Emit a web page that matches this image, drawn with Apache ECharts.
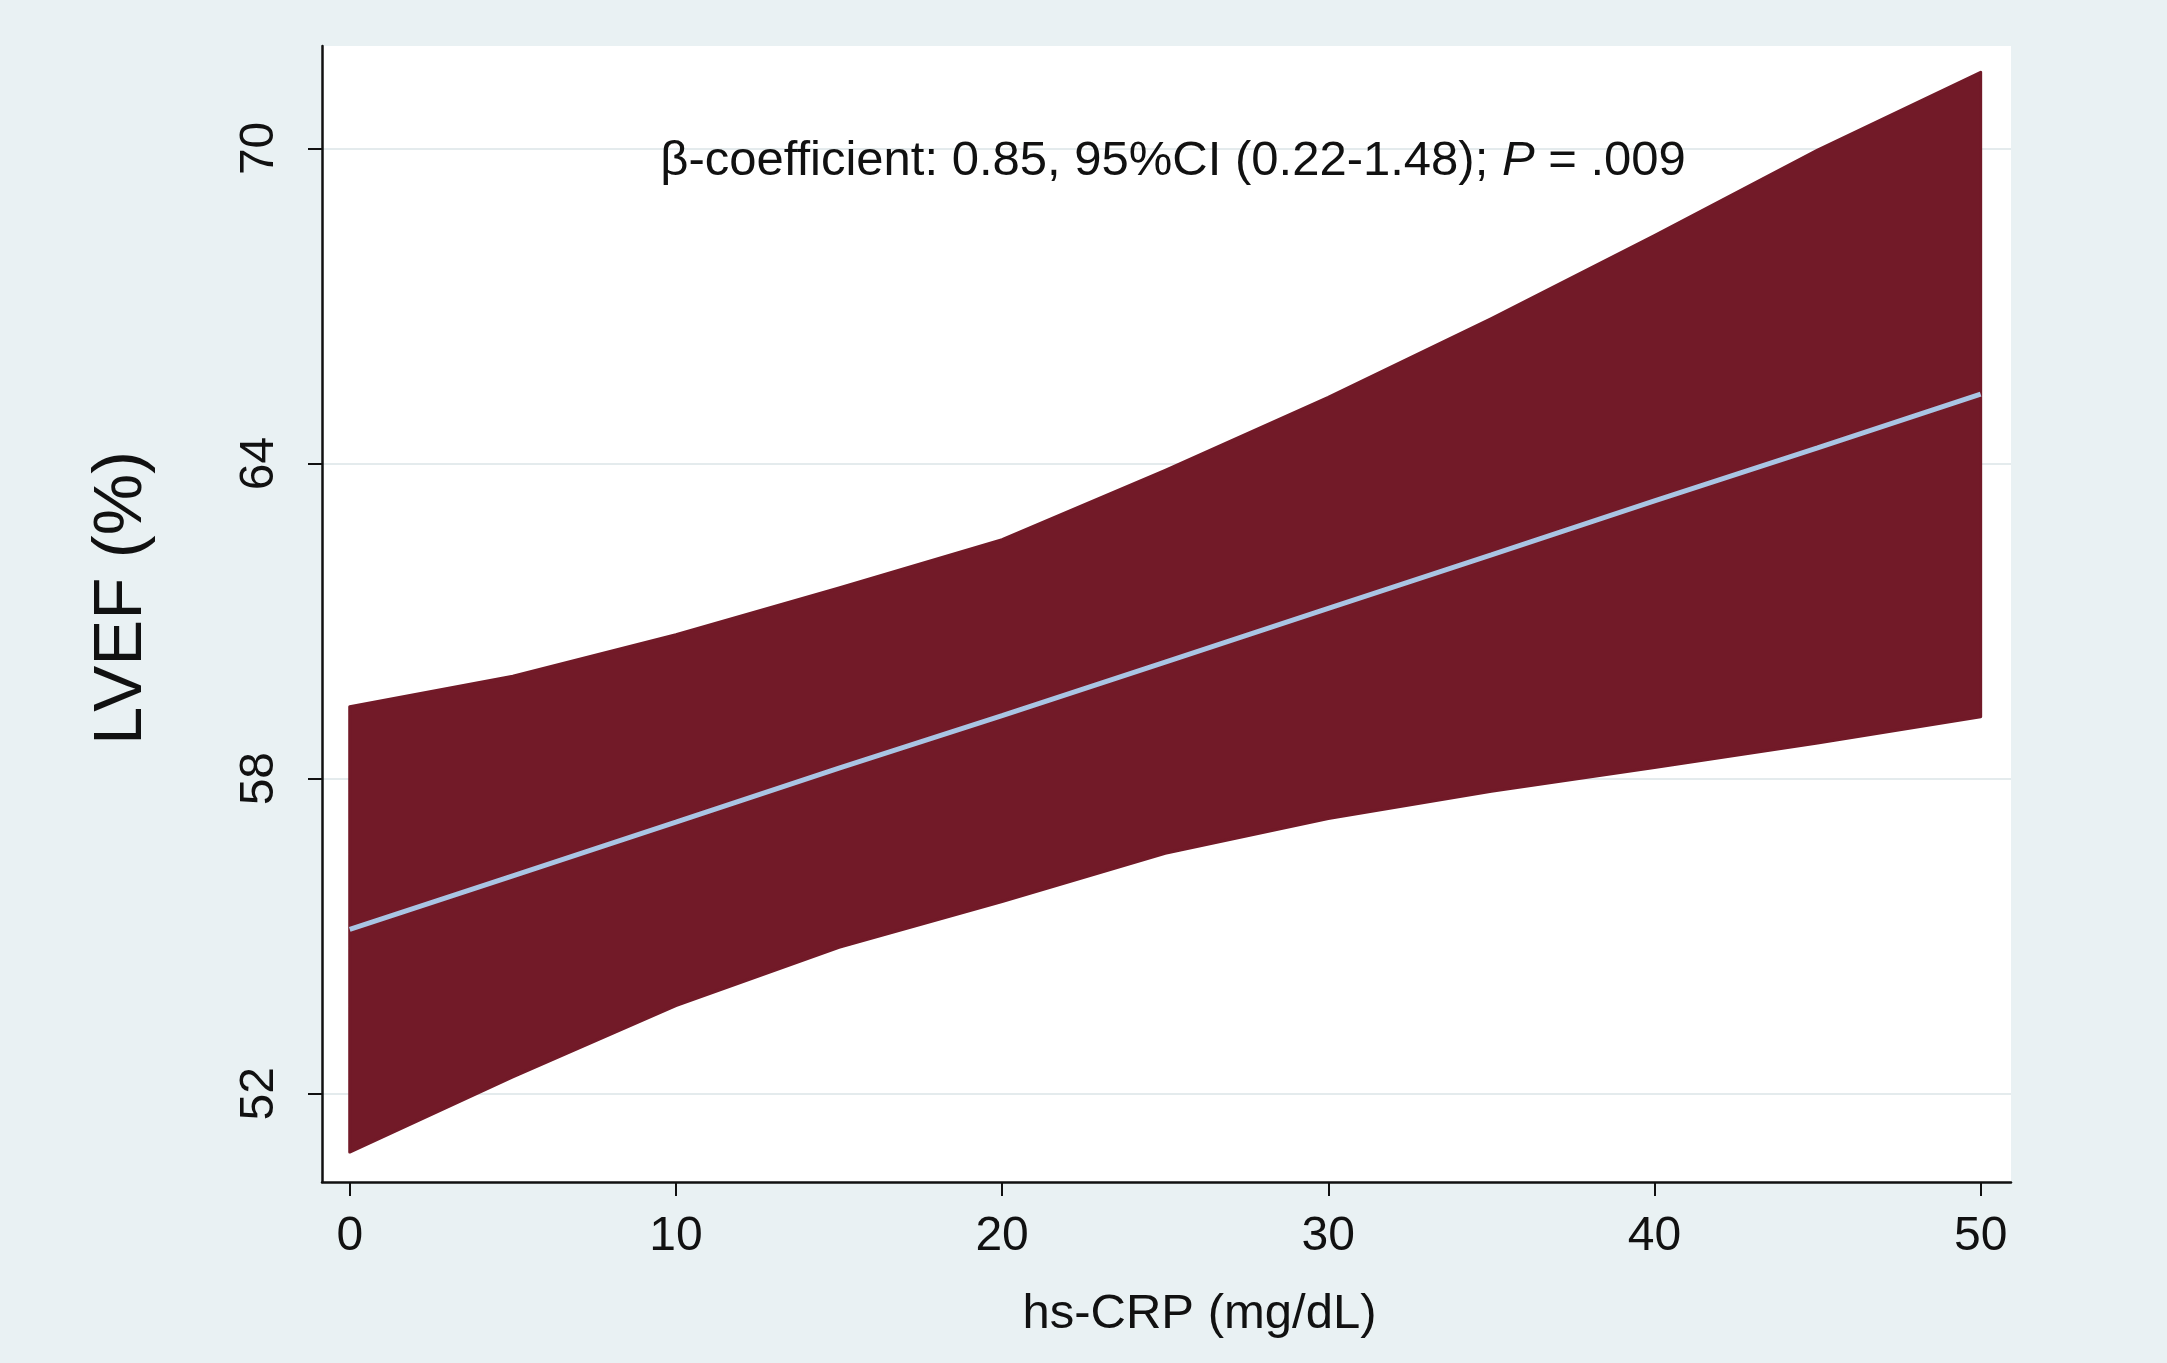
<!DOCTYPE html>
<html>
<head>
<meta charset="utf-8">
<script src="https://cdn.jsdelivr.net/npm/echarts@6/dist/echarts.min.js"></script>
<style>
  html, body { margin: 0; padding: 0; background: #e9f1f3; }
  #chart { width: 2167px; height: 1363px; }
</style>
</head>
<body>
<div id="chart"></div>
<script>
// hs-CRP values (x)
const xs = [0, 5, 10, 15, 20, 25, 30, 35, 40, 45, 50];
// 95% CI bounds and fitted LVEF (%)
const upper = [59.37, 59.95, 60.74, 61.63, 62.55, 63.87, 65.26, 66.76, 68.34, 69.97, 71.45];
const lower = [50.89, 52.32, 53.68, 54.79, 55.66, 56.58, 57.24, 57.76, 58.21, 58.68, 59.18];
const fit   = [55.13, 56.15, 57.17, 58.20, 59.20, 60.22, 61.24, 62.26, 63.29, 64.30, 65.32];
const xTicks = [0, 10, 20, 30, 40, 50];
const yTicks = [52, 58, 64, 70];

const FONT = '"Liberation Sans", Arial, Helvetica, sans-serif';
const BAND = '#721a28';
const chart = echarts.init(document.getElementById('chart'));

const bandData = xs.map((x, i) => [x, lower[i], upper[i]]);
const fitData = xs.map((x, i) => [x, fit[i]]);

chart.setOption({
  backgroundColor: '#e9f1f3',
  animation: false,
  grid: {
    left: 322, right: 156, top: 46, bottom: 181,
    show: true, backgroundColor: '#ffffff', borderWidth: 0
  },
  xAxis: {
    type: 'value',
    min: -0.85, max: 50.93,
    name: 'hs-CRP (mg/dL)',
    nameLocation: 'middle',
    nameGap: 108,
    nameTextStyle: { fontFamily: FONT, fontSize: 49, color: '#111', padding: [0, 0, 0, 66] },
    axisLine: { show: true, onZero: false, lineStyle: { color: '#111', width: 2.5 } },
    axisTick: { show: true, length: 14, lineStyle: { color: '#111', width: 2 }, customValues: xTicks },
    axisLabel: { customValues: xTicks, margin: 31, fontFamily: FONT, fontSize: 48, color: '#111' },
    splitLine: { show: false }
  },
  yAxis: {
    type: 'value',
    min: 50.32, max: 71.95,
    name: 'LVEF (%)',
    nameLocation: 'middle',
    nameRotate: 90,
    nameGap: 166,
    nameTextStyle: { fontFamily: FONT, fontSize: 69, color: '#111', padding: [0, 0, 0, 32] },
    axisLine: { show: true, onZero: false, lineStyle: { color: '#111', width: 2.5 } },
    axisTick: { show: true, length: 14, lineStyle: { color: '#111', width: 2 }, customValues: yTicks },
    axisLabel: { customValues: yTicks, rotate: 90, margin: 38, fontFamily: FONT, fontSize: 48, color: '#111' },
    splitLine: { show: true, lineStyle: { color: '#e4ebed', width: 2 } }
  },
  graphic: [{
    type: 'text',
    x: 1173, y: 161,
    z: 100,
    style: {
      text: '{a|β-coefficient: 0.85, 95%CI (0.22-1.48); }{i|P}{a| = .009}',
      align: 'center',
      verticalAlign: 'middle',
      rich: {
        a: { fontFamily: FONT, fontSize: 49, fill: '#111' },
        i: { fontFamily: FONT, fontSize: 49, fontStyle: 'italic', fill: '#111' }
      }
    }
  }],
  series: [
    {
      type: 'custom',
      data: bandData,
      encode: { x: 0, y: [1, 2] },
      silent: true,
      z: 2,
      renderItem: function (params, api) {
        if (params.dataIndex !== 0) return null;
        const pts = [];
        for (let i = 0; i < bandData.length; i++) pts.push(api.coord([bandData[i][0], bandData[i][2]]));
        for (let i = bandData.length - 1; i >= 0; i--) pts.push(api.coord([bandData[i][0], bandData[i][1]]));
        return {
          type: 'polygon',
          shape: { points: pts },
          style: { fill: BAND, stroke: BAND, lineWidth: 3, lineJoin: 'round' }
        };
      }
    },
    {
      type: 'line', data: fitData, symbol: 'none', silent: true,
      lineStyle: { color: '#a9c5e4', width: 5 }, z: 3
    }
  ]
});
</script>
</body>
</html>
